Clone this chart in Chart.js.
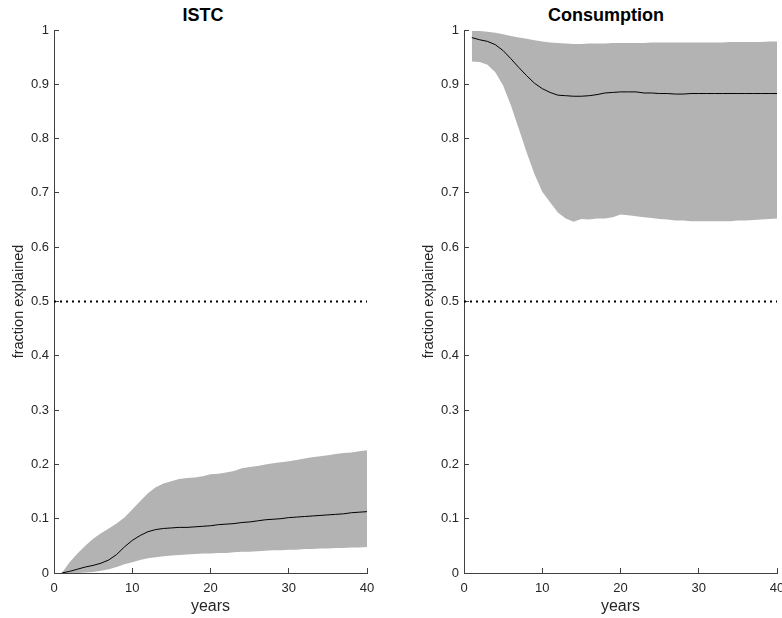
<!DOCTYPE html>
<html>
<head>
<meta charset="utf-8">
<script src="https://cdn.jsdelivr.net/npm/chart.js@4/dist/chart.umd.min.js"></script>
<style>
  html, body { margin: 0; padding: 0; background: #fff; }
  #wrap { position: relative; width: 782px; height: 618px; overflow: hidden; }
  #wrap canvas { position: absolute; top: 0; }
  .ttl {
    position: absolute; top: 5px; line-height: 22px; white-space: nowrap;
    font: bold 18px "Liberation Sans", Arial, sans-serif; color: #000;
    transform: translateX(-50%);
  }
</style>
</head>
<body>
<div id="wrap">
  <div class="ttl" style="left:203px">ISTC</div>
  <div class="ttl" style="left:606px">Consumption</div>
  <canvas id="istc" width="391" height="618" style="left:0"></canvas>
  <canvas id="cons" width="391" height="618" style="left:410px"></canvas>
</div>
<script>
// horizons (years)
const years = [1, 2, 3, 4, 5, 6, 7, 8, 9, 10, 11, 12, 13, 14, 15, 16, 17, 18, 19, 20,
               21, 22, 23, 24, 25, 26, 27, 28, 29, 30, 31, 32, 33, 34, 35, 36, 37, 38, 39, 40];

// ISTC: fraction explained, median and band
const istcHigh = [0.000, 0.020, 0.036, 0.050, 0.063, 0.073, 0.082, 0.091, 0.102, 0.117,
                  0.132, 0.147, 0.158, 0.165, 0.169, 0.173, 0.175, 0.176, 0.178, 0.182,
                  0.183, 0.185, 0.188, 0.193, 0.195, 0.197, 0.200, 0.202, 0.204, 0.206,
                  0.208, 0.211, 0.213, 0.215, 0.217, 0.219, 0.221, 0.222, 0.224, 0.226];
const istcMid  = [0.000, 0.003, 0.007, 0.011, 0.014, 0.018, 0.024, 0.034, 0.048, 0.060,
                  0.069, 0.076, 0.080, 0.082, 0.083, 0.084, 0.084, 0.085, 0.086, 0.087,
                  0.089, 0.090, 0.091, 0.093, 0.094, 0.096, 0.098, 0.099, 0.100, 0.102,
                  0.103, 0.104, 0.105, 0.106, 0.107, 0.108, 0.109, 0.111, 0.112, 0.113];
const istcLow  = [0.000, 0.000, 0.000, 0.001, 0.002, 0.004, 0.007, 0.011, 0.016, 0.020,
                  0.024, 0.027, 0.029, 0.031, 0.032, 0.033, 0.034, 0.035, 0.036, 0.036,
                  0.037, 0.037, 0.038, 0.039, 0.039, 0.040, 0.041, 0.042, 0.042, 0.043,
                  0.043, 0.044, 0.044, 0.045, 0.045, 0.046, 0.046, 0.047, 0.047, 0.048];

// Consumption: fraction explained, median and band
const consHigh = [0.998, 0.998, 0.997, 0.995, 0.992, 0.989, 0.986, 0.984, 0.981, 0.979,
                  0.977, 0.976, 0.975, 0.974, 0.974, 0.975, 0.975, 0.975, 0.976, 0.976,
                  0.976, 0.976, 0.976, 0.977, 0.977, 0.977, 0.977, 0.977, 0.977, 0.977,
                  0.977, 0.977, 0.977, 0.978, 0.978, 0.978, 0.978, 0.978, 0.979, 0.979];
const consMid  = [0.986, 0.982, 0.979, 0.973, 0.962, 0.947, 0.931, 0.916, 0.902, 0.892,
                  0.885, 0.880, 0.879, 0.878, 0.878, 0.879, 0.881, 0.884, 0.885, 0.886,
                  0.886, 0.886, 0.884, 0.884, 0.883, 0.883, 0.882, 0.882, 0.883, 0.883,
                  0.883, 0.883, 0.883, 0.883, 0.883, 0.883, 0.883, 0.883, 0.883, 0.883];
const consLow  = [0.942, 0.941, 0.936, 0.922, 0.898, 0.861, 0.818, 0.775, 0.735, 0.702,
                  0.683, 0.664, 0.653, 0.647, 0.652, 0.651, 0.653, 0.653, 0.655, 0.660,
                  0.659, 0.657, 0.655, 0.654, 0.652, 0.651, 0.649, 0.649, 0.648, 0.648,
                  0.648, 0.648, 0.648, 0.648, 0.649, 0.649, 0.650, 0.651, 0.652, 0.653];

// 50% reference line
const halfX = [0, 40];
const halfY = [0.5, 0.5];

const xTicks = [0, 10, 20, 30, 40];
const yTicks = [0, 0.1, 0.2, 0.3, 0.4, 0.5, 0.6, 0.7, 0.8, 0.9, 1];

const FONT = '"Liberation Sans", Arial, Helvetica, sans-serif';
const INK = '#262626';
const AXIS = '#404040';
const BAND = '#b3b3b3';

Chart.defaults.font.family = FONT;

function pts(xs, ys) {
  return xs.map((x, i) => ({ x: x, y: ys[i] }));
}

function panel(canvas, high, mid, low) {
  return new Chart(canvas, {
    type: 'line',
    data: {
      datasets: [
        { data: pts(years, mid), borderColor: '#000', borderWidth: 1, pointRadius: 0, fill: false, order: 0 },
        { data: pts(halfX, halfY), borderColor: '#000', borderWidth: 2, borderDash: [2, 4], pointRadius: 0, fill: false, order: 1 },
        { data: pts(years, high), borderWidth: 0, pointRadius: 0, backgroundColor: BAND, fill: '+1', order: 2 },
        { data: pts(years, low), borderWidth: 0, pointRadius: 0, fill: false, order: 3 }
      ]
    },
    options: {
      responsive: false,
      animation: false,
      devicePixelRatio: 1,
      layout: { padding: { left: 0, right: 24, top: 30, bottom: 0 } },
      plugins: { legend: { display: false }, tooltip: { enabled: false } },
      scales: {
        x: {
          type: 'linear', min: 0, max: 40,
          afterBuildTicks: s => { s.ticks = xTicks.map(v => ({ value: v })); },
          afterFit: s => { s.height = 45; },
          ticks: { color: INK, font: { size: 13 }, padding: 13, maxRotation: 0, callback: v => String(v) },
          grid: { drawOnChartArea: false, drawTicks: true, tickLength: -5, color: AXIS },
          border: { display: true, color: AXIS, width: 1 },
          title: { display: true, text: 'years', color: INK, font: { size: 16 }, padding: { top: 0, bottom: 1.5 } }
        },
        y: {
          type: 'linear', min: 0, max: 1,
          afterBuildTicks: s => { s.ticks = yTicks.map(v => ({ value: v })); },
          afterFit: s => { s.width = 54; },
          ticks: { color: INK, font: { size: 13 }, padding: 10, callback: v => String(v) },
          grid: { drawOnChartArea: false, drawTicks: true, tickLength: -5, color: AXIS },
          border: { display: true, color: AXIS, width: 1 },
          title: { display: true, text: 'fraction explained', color: INK, font: { size: 14.5 }, padding: { top: 10.5, bottom: 0 } }
        }
      }
    }
  });
}

panel(document.getElementById('istc'), istcHigh, istcMid, istcLow);
panel(document.getElementById('cons'), consHigh, consMid, consLow);
</script>
</body>
</html>
